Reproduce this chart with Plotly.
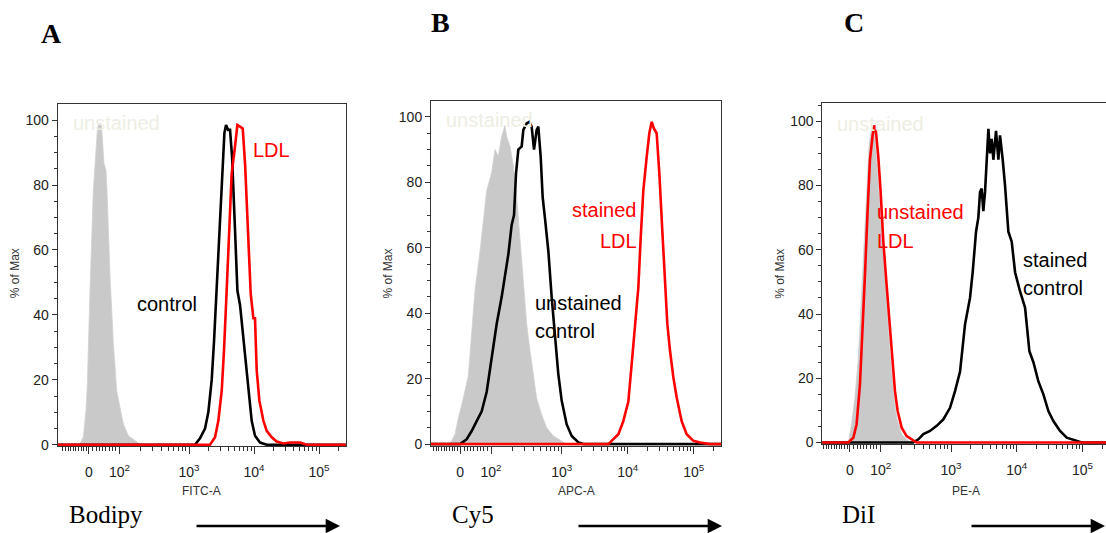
import numpy as np
import plotly.graph_objects as go

W, H = 1106, 533
FIG_H = 540  # rendered page is slightly taller than the photographed frame

# ---------------- axis ticks (biexponential display units) ----------------
tick_vals = [1.46, 1.93, 3.0, 4.0, 5.0]
tick_text = ["0", "10<sup>2</sup>", "10<sup>3</sup>", "10<sup>4</sup>", "10<sup>5</sup>"]
y_tick_vals = [0, 20, 40, 60, 80, 100]
channel_titles = ["FITC-A", "APC-A", "PE-A"]
dye_names = ["Bodipy", "Cy5", "DiI"]
panel_letters = ["A", "B", "C"]

# ---------------- Panel A (Bodipy / FITC-A) ----------------
a_gray_x = [1.313, 1.374, 1.415, 1.436, 1.477, 1.528, 1.590, 1.610, 1.646, 1.662, 1.692, 1.723,
            1.744, 1.785, 1.836, 1.887, 1.938, 1.990, 2.067, 2.144, 2.246]
a_gray_y = [0, 2.3, 10.5, 18.7, 47.5, 78.4, 96.9, 99, 99, 95.9, 86.6, 84.6,
            75.3, 51.9, 31.3, 16.7, 11.5, 6.4, 2.8, 1.7, 0.2]
a_black_x = [0.98, 3.092, 3.169, 3.246, 3.297, 3.349, 3.385, 3.426, 3.477, 3.518, 3.544, 3.569, 3.600,
             3.631, 3.662, 3.708, 3.744, 3.785, 3.826, 3.877, 3.913, 3.964, 4.015, 4.092, 4.195, 5.42]
a_black_y = [0, 0, 2, 5, 10, 20, 32, 47.5, 68, 83.5, 96, 98.5, 97,
             97, 88.7, 66, 47.5, 43, 35, 25, 16.7, 7.4, 2.8, 0.7, 0, 0]
a_red_x = [0.98, 3.323, 3.400, 3.451, 3.503, 3.538, 3.579, 3.621, 3.656, 3.708, 3.744, 3.785, 3.826,
           3.862, 3.897, 3.949, 3.990, 4.015, 4.041, 4.082, 4.144, 4.195, 4.272, 4.349, 4.451,
           4.554, 4.708, 4.810, 5.42]
a_red_y = [0, 0, 2.3, 7.4, 16.7, 29, 47.5, 68, 83.5, 92, 98.5, 98, 97.4,
           86.6, 68, 46.5, 39, 39, 23, 13.6, 7.4, 4.3, 2.3, 1.0, 0.4,
           0.7, 0.7, 0, 0]

# ---------------- Panel B (Cy5 / APC-A) ----------------
b_gray_x = [1.308, 1.384, 1.434, 1.510, 1.586, 1.636, 1.687, 1.763, 1.813, 1.864, 1.939, 1.990,
            2.040, 2.091, 2.141, 2.167, 2.217, 2.268, 2.318, 2.369, 2.419, 2.470, 2.520, 2.571,
            2.621, 2.697, 2.773, 2.874, 3.000, 3.076]
b_gray_y = [0, 3, 8, 14, 21, 35, 47, 59, 69, 77.5, 83, 90,
            88, 94, 97.4, 94, 91, 85, 75.5, 62, 49, 36.7, 28.6, 21,
            14, 9, 5, 2.5, 1, 0]
b_black_x = [1.0, 1.460, 1.561, 1.636, 1.712, 1.788, 1.864, 1.939, 2.015, 2.091, 2.141, 2.192, 2.242,
             2.278, 2.308, 2.343, 2.394, 2.419, 2.470, 2.510, 2.545, 2.581, 2.621, 2.646,
             2.682, 2.712, 2.747, 2.798, 2.848, 2.899, 2.949, 3.000, 3.076, 3.152, 3.253,
             3.328, 5.42]
b_black_y = [0, 0, 1.5, 4, 7, 10, 16, 26.5, 36.7, 45, 51, 58, 67,
             70, 82.7, 90, 91, 96, 98, 98.5, 97, 90, 96, 97,
             87.8, 75.5, 69, 59, 45, 32.7, 21.4, 13.3, 6, 2.5, 0.5,
             0, 0]
b_red_x = [1.0, 3.707, 3.783, 3.859, 3.934, 4.010, 4.061, 4.111, 4.162, 4.197, 4.237, 4.288, 4.328,
           4.364, 4.399, 4.439, 4.480, 4.520, 4.566, 4.601, 4.641, 4.692, 4.742, 4.818,
           4.894, 4.995, 5.096, 5.172, 5.247, 5.42]
b_red_y = [0, 0, 1.5, 3, 7, 13, 24.5, 36.7, 48, 63, 77.5, 87.8, 95,
           98.5, 96.4, 95, 82.7, 67, 51, 36.7, 28.6, 20.4, 14.3, 7,
           3, 1, 0.5, 0.2, 0, 0]

# ---------------- Panel C (DiI / PE-A) ----------------
c_gray_x = [1.437, 1.487, 1.538, 1.589, 1.640, 1.690, 1.726, 1.756, 1.792, 1.827, 1.868, 1.919,
            1.970, 2.020, 2.071, 2.122, 2.173, 2.249, 2.350, 2.426]
c_gray_y = [0, 5.7, 14, 26, 47, 67.7, 83, 93.5, 97.6, 98.6, 88, 73,
            57, 42, 28.4, 16, 7.7, 2.6, 0.5, 0]
c_black_x = [1.0, 2.426, 2.503, 2.579, 2.680, 2.782, 2.883, 2.985, 3.061, 3.137, 3.213, 3.289, 3.330,
             3.381, 3.416, 3.442, 3.467, 3.492, 3.518, 3.543, 3.569, 3.594, 3.619, 3.645,
             3.685, 3.721, 3.746, 3.787, 3.822, 3.873, 3.924, 3.975, 4.051, 4.127, 4.193,
             4.254, 4.330, 4.406, 4.482, 4.558, 4.660, 4.761, 4.888, 4.990, 5.42]
c_black_y = [0, 0, 1, 2.6, 3.6, 5.2, 7.2, 10.8, 16, 22, 36.7, 45, 53,
             65.6, 70, 78, 79, 72, 78, 88, 97.6, 90, 94.5, 88,
             97, 88, 95.6, 88, 80, 65.6, 62.5, 53, 47, 42, 28.4,
             25, 19, 15, 9.8, 6.7, 3.6, 1.5, 0.7, 0, 0]
c_red_x = [1.0, 1.437, 1.513, 1.563, 1.614, 1.655, 1.690, 1.726, 1.766, 1.807, 1.832, 1.858, 1.893,
           1.929, 1.970, 2.020, 2.071, 2.112, 2.147, 2.188, 2.249, 2.325, 2.426, 2.477, 5.42]
c_red_y = [0, 0, 1.5, 5.7, 18, 34.6, 52, 70, 88, 95.6, 98.7, 96.6, 89,
           78, 62.5, 49, 36.7, 26.3, 16, 9.8, 4.6, 2, 0.5, 0, 0]

panels = [
    dict(gray=(a_gray_x, a_gray_y), black=(a_black_x, a_black_y), red=(a_red_x, a_red_y),
         px=(57.7, 345.7), xr=(0.98, 5.41), py=(104, 445.6), yr=(-0.5, 104.9), mirror_y=True),
    dict(gray=(b_gray_x, b_gray_y), black=(b_black_x, b_black_y), red=(b_red_x, b_red_y),
         px=(431, 721), xr=(1.02, 5.414), py=(101, 444.9), yr=(-0.5, 104.8), mirror_y=True),
    dict(gray=(c_gray_x, c_gray_y), black=(c_black_x, c_black_y), red=(c_red_x, c_red_y),
         px=(822.3, 1106), xr=(1.041, 5.359), py=(102.7, 443.3), yr=(-0.5, 105.7), mirror_y=False),
]

# minor tick positions (axis decoration)
minor_x = list(np.arange(1.06, 1.44, 0.04)) + list(np.arange(1.52, 1.92, 0.05))
minor_x += [1.93 + 1.07 * np.log10(k) for k in range(2, 10)]
minor_x += [d + np.log10(k) for d in (3, 4) for k in range(2, 10)] + [5 + np.log10(2)]
minor_x = [float(v) for v in minor_x]

AX = "#333333"
FONT = "Liberation Sans, Arial, sans-serif"
SERIF = "Liberation Serif, Times New Roman, serif"

fig = go.Figure()
layout = dict(width=W, height=FIG_H, margin=dict(l=0, r=0, t=0, b=0),
              paper_bgcolor="white", plot_bgcolor="white", showlegend=False)
annotations = []

def px2x(p):
    return p / W

def px2y(p):
    return 1 - p / H

for i, p in enumerate(panels):
    n = "" if i == 0 else str(i + 1)
    xa, ya = "x" + n, "y" + n
    gx, gy = p["gray"]
    fig.add_trace(go.Scatter(x=gx, y=gy, mode="lines", fill="tozeroy",
                             fillcolor="#c9c9c9", line=dict(color="#d0d0d0", width=0.8),
                             xaxis=xa, yaxis=ya, hoverinfo="skip"))
    bx, by = p["black"]
    fig.add_trace(go.Scatter(x=bx, y=by, mode="lines", line=dict(color="black", width=2.6),
                             xaxis=xa, yaxis=ya))
    rx, ry = p["red"]
    fig.add_trace(go.Scatter(x=rx, y=ry, mode="lines", line=dict(color="#ff0000", width=2.6),
                             xaxis=xa, yaxis=ya))
    layout["xaxis" + n] = dict(
        domain=[px2x(p["px"][0]), px2x(p["px"][1])], range=list(p["xr"]), anchor=ya,
        showline=True, linecolor=AX, linewidth=1, mirror=True,
        showgrid=False, zeroline=False,
        tickmode="array", tickvals=tick_vals, ticktext=tick_text,
        ticks="outside", ticklen=7, tickcolor=AX, tickwidth=1.2, ticklabelstandoff=6,
        tickfont=dict(family=FONT, size=14, color="#222222"),
        minor=dict(tickvals=minor_x, ticks="outside", ticklen=4, tickcolor=AX, tickwidth=1),
    )
    layout["yaxis" + n] = dict(
        domain=[px2y(p["py"][1]), px2y(p["py"][0])], range=list(p["yr"]), anchor=xa,
        showline=True, linecolor=AX, linewidth=1, mirror=p["mirror_y"],
        showgrid=False, zeroline=False,
        tickmode="array", tickvals=y_tick_vals,
        ticks="outside", ticklen=5, tickcolor=AX, tickwidth=1,
        tickfont=dict(family=FONT, size=14, color="#222222"),
        minor=dict(dtick=5, ticks="outside", ticklen=3, tickcolor=AX),
    )
    # axis titles
    cx = (p["px"][0] + p["px"][1]) / 2
    if i == 2:
        cx = p["px"][0] + 144
    annotations.append(dict(xref="paper", yref="paper", x=px2x(cx), y=px2y(490),
                            text=channel_titles[i], showarrow=False, xanchor="center", yanchor="middle",
                            font=dict(family=FONT, size=12, color="#333333")))
    annotations.append(dict(xref="paper", yref="paper", x=px2x(p["px"][0] - 43), y=px2y(273),
                            text="% of Max", textangle=-90, showarrow=False,
                            xanchor="center", yanchor="middle",
                            font=dict(family=FONT, size=12, color="#333333")))
    # faint "unstained" label
    annotations.append(dict(xref=xa, yref=ya, x=p["xr"][0] + 0.2, y=99,
                            text="unstained", showarrow=False, xanchor="left", yanchor="middle",
                            font=dict(family=FONT, size=20, color="#eeeee4")))

# curve labels
def lab(xr, yr, x, y, t, anchor, color):
    return dict(xref=xr, yref=yr, x=x, y=y, text=t, xanchor=anchor, yanchor="middle",
                showarrow=False, font=dict(family=FONT, size=20, color=color))

annotations += [
    lab("x", "y", 4.262, 90.7, "LDL", "center", "#ff0000"),
    lab("x", "y", 2.662, 43.5, "control", "center", "black"),
    lab("x2", "y2", 4.172, 71.4, "stained", "right", "#ff0000"),
    lab("x2", "y2", 4.172, 62.2, "LDL", "right", "#ff0000"),
    lab("x2", "y2", 2.565, 43.2, "unstained", "left", "black"),
    lab("x2", "y2", 2.565, 34.7, "control", "left", "black"),
    lab("x3", "y3", 1.843, 71.8, "unstained", "left", "#ff0000"),
    lab("x3", "y3", 1.843, 62.8, "LDL", "left", "#ff0000"),
    lab("x3", "y3", 4.065, 56.9, "stained", "left", "black"),
    lab("x3", "y3", 4.065, 48.2, "control", "left", "black"),
]

# panel letters
for (lx, ly), t in zip([(51, 33), (440, 22), (854, 22)], panel_letters):
    annotations.append(dict(xref="paper", yref="paper", x=px2x(lx), y=px2y(ly), text="<b>%s</b>" % t,
                            showarrow=False, xanchor="center", yanchor="middle",
                            font=dict(family=SERIF, size=28, color="black")))

# dye names and arrows
for (tx, a0, a1), t in zip([(67, 195, 340), (450, 577, 722), (840, 970, 1110)], dye_names):
    annotations.append(dict(xref="paper", yref="paper", x=px2x(tx), y=px2y(514), text=t,
                            showarrow=False, xanchor="left", yanchor="middle",
                            font=dict(family=SERIF, size=25, color="black")))
    annotations.append(dict(xref="paper", yref="paper", x=px2x(a1), y=px2y(525), text="",
                            showarrow=True, arrowhead=2, arrowsize=1.1, arrowwidth=2.6,
                            arrowcolor="black", ax=-(a1 - a0), ay=0))

layout["annotations"] = annotations
fig.update_layout(**layout)
fig.write_html("out.html", config={"displayModeBar": False},
               post_script="document.body.style.margin='0';document.body.style.overflow='hidden';")
